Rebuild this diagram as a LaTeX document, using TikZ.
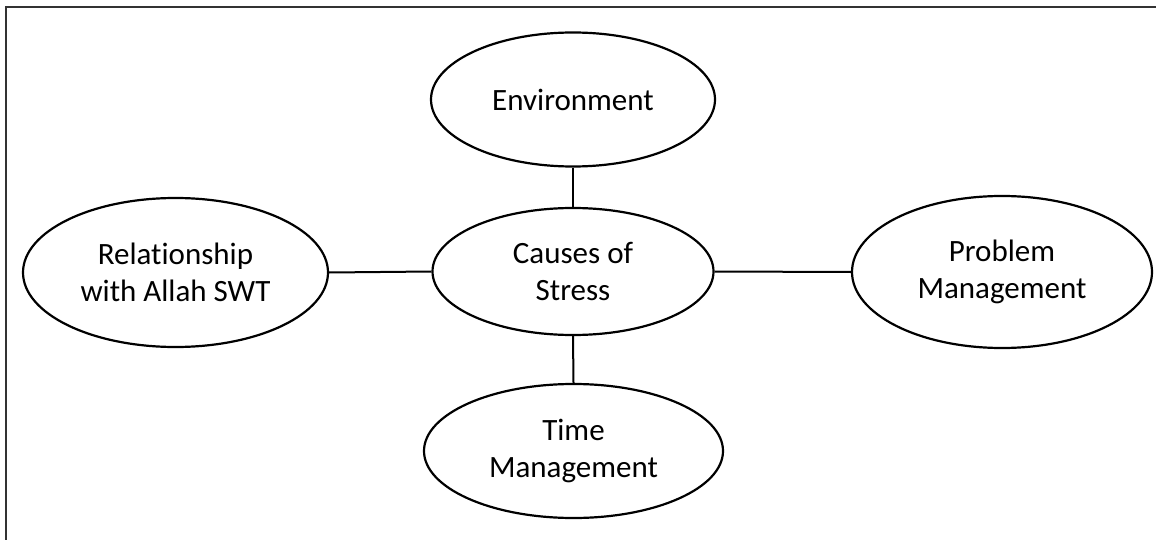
\documentclass[tikz,border=0pt]{standalone}
\usepackage{fontspec}
\setmainfont[Ligatures={NoCommon}]{Carlito}
\usetikzlibrary{shapes.geometric}
\begin{document}
\begin{tikzpicture}[x=1pt,y=-1pt,
  bubble/.style={ellipse,draw=black,line width=2.2pt,inner sep=0pt,align=center,
    font=\fontsize{31}{37}\selectfont},
  link/.style={draw=black,line width=2pt},
  frame/.style={draw=black!80,line width=1.8pt}]
\useasboundingbox (0,0) rectangle (1156,540);
\draw[frame] (6,545) -- (6,7) -- (1160,7);
\node[bubble,minimum width=284pt,minimum height=134pt] (env) at (573,99.5) {Environment};
\node[bubble,minimum width=281pt,minimum height=127pt] (cause) at (573,271.5) {Causes of\\Stress};
\node[bubble,minimum width=305pt,minimum height=149pt] (rel) at (175.5,272.5) {Relationship\\with Allah SWT};
\node[bubble,minimum width=300pt,minimum height=152pt] (prob) at (1002,272) {Problem\\Management};
\node[bubble,minimum width=299pt,minimum height=134pt] (time) at (573.5,451) {Time\\Management};
\draw[link] (env.south) -- (cause.north);
\draw[link] (cause.south) -- (time.north);
\draw[link] (cause.west) -- (rel.east);
\draw[link] (cause.east) -- (prob.west);
\end{tikzpicture}
\end{document}
